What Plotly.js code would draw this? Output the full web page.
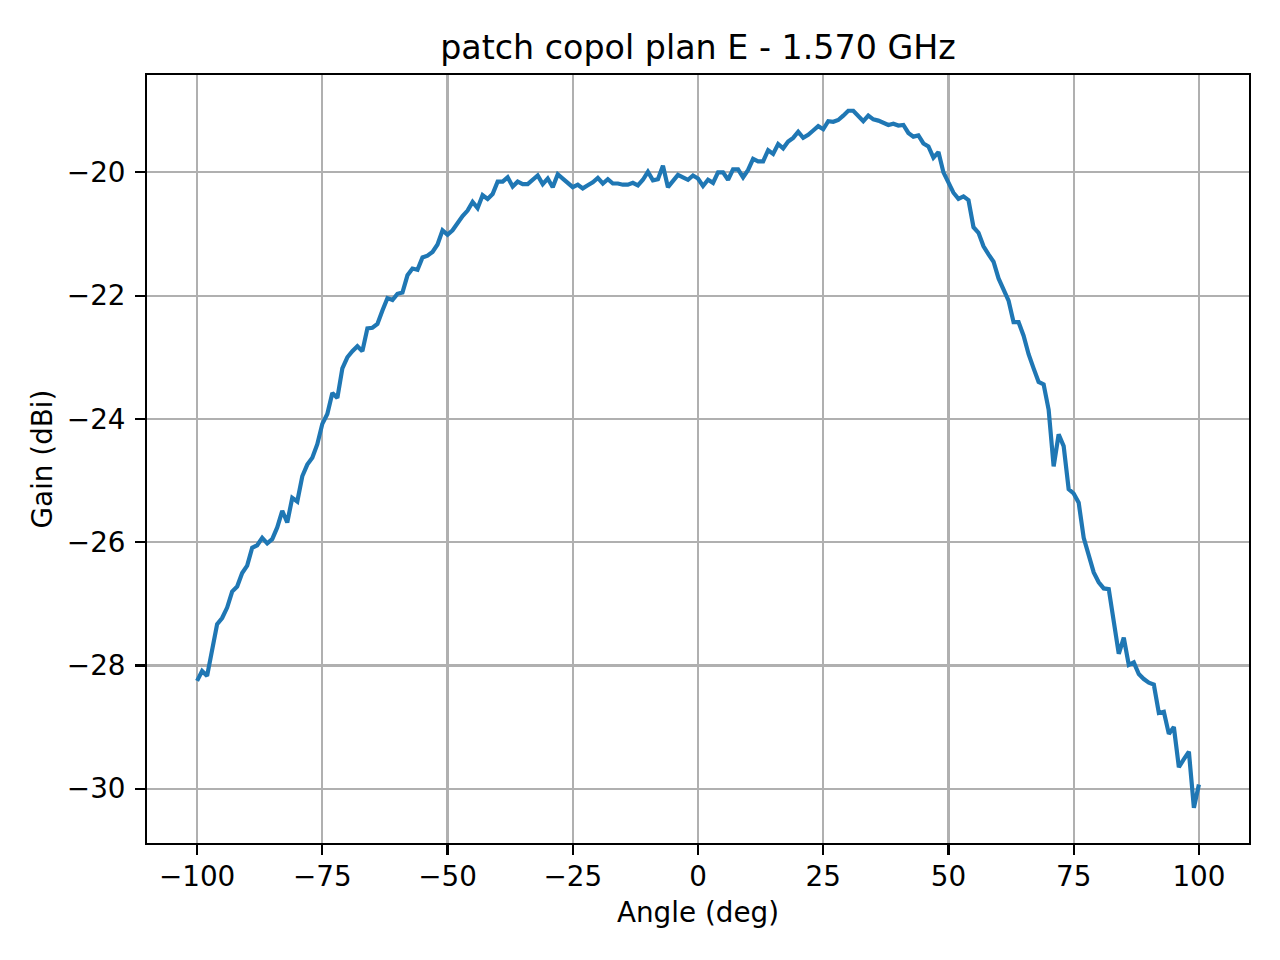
<!DOCTYPE html>
<html>
<head>
<meta charset="utf-8">
<script src="https://cdn.plot.ly/plotly-3.0.1.min.js"></script>
<style>
  html, body { margin: 0; padding: 0; background: #fff; }
  #chart { width: 1280px; height: 960px; }
</style>
</head>
<body>
<div id="chart"></div>
<script>
// measured angles (deg)
const angles = [
    -100, -99, -98, -97, -96, -95, -94, -93, -92, -91, -90, -89, -88, -87, -86, -85, -84, -83, -82, -81,
    -80, -79, -78, -77, -76, -75, -74, -73, -72, -71, -70, -69, -68, -67, -66, -65, -64, -63, -62, -61,
    -60, -59, -58, -57, -56, -55, -54, -53, -52, -51, -50, -49, -48, -47, -46, -45, -44, -43, -42, -41,
    -40, -39, -38, -37, -36, -35, -34, -33, -32, -31, -30, -29, -28, -27, -26, -25, -24, -23, -22, -21,
    -20, -19, -18, -17, -16, -15, -14, -13, -12, -11, -10, -9, -8, -7, -6, -5, -4, -3, -2, -1,
    0, 1, 2, 3, 4, 5, 6, 7, 8, 9, 10, 11, 12, 13, 14, 15, 16, 17, 18, 19,
    20, 21, 22, 23, 24, 25, 26, 27, 28, 29, 30, 31, 32, 33, 34, 35, 36, 37, 38, 39,
    40, 41, 42, 43, 44, 45, 46, 47, 48, 49, 50, 51, 52, 53, 54, 55, 56, 57, 58, 59,
    60, 61, 62, 63, 64, 65, 66, 67, 68, 69, 70, 71, 72, 73, 74, 75, 76, 77, 78, 79,
    80, 81, 82, 83, 84, 85, 86, 87, 88, 89, 90, 91, 92, 93, 94, 95, 96, 97, 98, 99,
    100
];

// copol gain (dBi)
const gain = [
    -28.25, -28.09, -28.17, -27.71, -27.33, -27.23, -27.06, -26.80, -26.72, -26.50,
    -26.38, -26.09, -26.05, -25.93, -26.02, -25.95, -25.76, -25.49, -25.68, -25.28,
    -25.34, -24.93, -24.74, -24.63, -24.41, -24.08, -23.92, -23.58, -23.66, -23.18,
    -23.00, -22.90, -22.82, -22.90, -22.53, -22.52, -22.46, -22.24, -22.04, -22.07,
    -21.97, -21.95, -21.67, -21.56, -21.58, -21.38, -21.35, -21.29, -21.17, -20.94,
    -21.01, -20.94, -20.82, -20.71, -20.62, -20.48, -20.58, -20.37, -20.43, -20.35,
    -20.15, -20.15, -20.08, -20.23, -20.15, -20.19, -20.19, -20.12, -20.05, -20.19,
    -20.10, -20.24, -20.03, -20.10, -20.17, -20.24, -20.20, -20.26, -20.21, -20.16,
    -20.09, -20.18, -20.11, -20.18, -20.18, -20.20, -20.20, -20.17, -20.21, -20.12,
    -19.99, -20.13, -20.11, -19.89, -20.24, -20.13, -20.04, -20.08, -20.12, -20.05,
    -20.10, -20.22, -20.12, -20.17, -20.00, -20.00, -20.12, -19.95, -19.95, -20.08,
    -19.96, -19.78, -19.82, -19.82, -19.64, -19.70, -19.54, -19.61, -19.50, -19.44,
    -19.34, -19.44, -19.39, -19.32, -19.25, -19.30, -19.17, -19.18, -19.15, -19.08,
    -19.00, -19.00, -19.09, -19.17, -19.08, -19.14, -19.16, -19.19, -19.23, -19.21,
    -19.24, -19.23, -19.36, -19.42, -19.40, -19.53, -19.58, -19.76, -19.67, -20.00,
    -20.16, -20.33, -20.43, -20.39, -20.45, -20.89, -20.98, -21.20, -21.33, -21.45,
    -21.72, -21.90, -22.08, -22.43, -22.43, -22.65, -22.95, -23.18, -23.40, -23.44,
    -23.85, -24.77, -24.25, -24.44, -25.14, -25.21, -25.36, -25.93, -26.22, -26.49,
    -26.65, -26.75, -26.76, -27.33, -27.81, -27.55, -27.99, -27.95, -28.14, -28.22,
    -28.28, -28.31, -28.77, -28.75, -29.11, -29.00, -29.65, -29.52, -29.40, -30.31,
    -29.93
];

const xTickVals = [-100, -75, -50, -25, 0, 25, 50, 75, 100];
const xTickText = ['\u2212100', '\u221275', '\u221250', '\u221225', '0', '25', '50', '75', '100'];
const yTickVals = [-30, -28, -26, -24, -22, -20];
const yTickText = ['\u221230', '\u221228', '\u221226', '\u221224', '\u221222', '\u221220'];

const font = 'DejaVu Sans, sans-serif';

const axisCommon = {
    showline: true,
    mirror: true,
    linecolor: '#000',
    linewidth: 2.2,
    showgrid: true,
    gridcolor: '#b0b0b0',
    gridwidth: 2.2,
    zeroline: false,
    ticks: 'outside',
    ticklen: 9.7,
    tickwidth: 2.2,
    tickcolor: '#000',
    tickmode: 'array',
    tickfont: { family: font, size: 27.8, color: '#000' },
    automargin: false
};

Plotly.newPlot('chart', [{
    x: angles,
    y: gain,
    type: 'scatter',
    mode: 'lines',
    line: { color: '#1f77b4', width: 4.2 },
    hoverinfo: 'x+y'
}], {
    width: 1280,
    height: 960,
    paper_bgcolor: '#fff',
    plot_bgcolor: '#fff',
    showlegend: false,
    margin: { l: 147, r: 31, t: 75, b: 117 },
    title: {
        text: 'patch copol plan E - 1.570 GHz',
        font: { family: font, size: 33.3, color: '#000' },
        x: 0.5,
        xref: 'paper',
        xanchor: 'center',
        y: 1,
        yref: 'paper',
        yanchor: 'bottom',
        pad: { b: 16 }
    },
    xaxis: Object.assign({}, axisCommon, {
        range: [-110, 110],
        tickvals: xTickVals,
        ticktext: xTickText,
        ticklabelstandoff: -2,
        title: { text: 'Angle (deg)', font: { family: font, size: 27.8, color: '#000' }, standoff: 10 }
    }),
    yaxis: Object.assign({}, axisCommon, {
        range: [-30.88, -18.42],
        tickvals: yTickVals,
        ticktext: yTickText,
        ticklabelstandoff: 4,
        title: { text: 'Gain (dBi)', font: { family: font, size: 27.8, color: '#000' }, standoff: 6 }
    })
}, { displayModeBar: false, staticPlot: true });
</script>
</body>
</html>
